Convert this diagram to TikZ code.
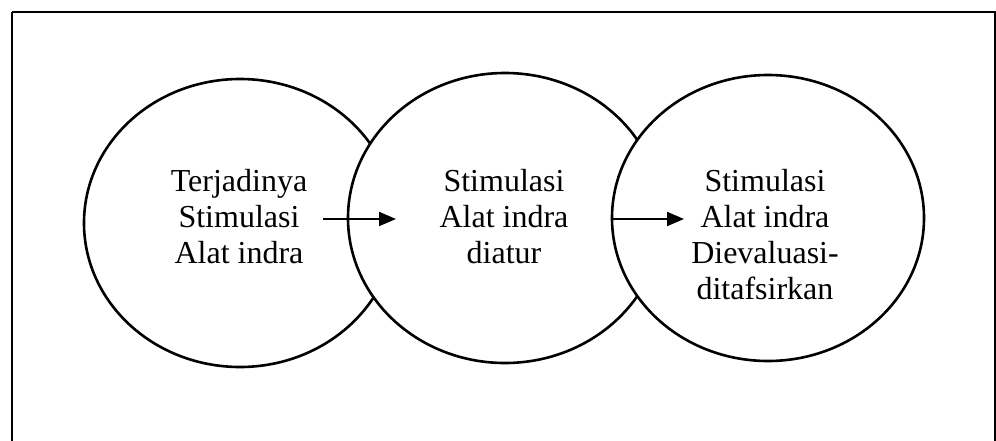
\documentclass[tikz,border=0pt]{standalone}
\usepackage{fontspec}
\setmainfont{Liberation Serif}
\usetikzlibrary{shapes.geometric,arrows.meta}
\tikzset{
  bubble/.style={draw, fill=white, ellipse, line width=2.6pt, inner sep=0pt},
  lbl/.style={anchor=base, inner sep=0pt, font=\fontsize{32}{36}\selectfont},
  conn/.style={line width=2pt, -{Triangle[length=17pt,width=14pt]}}
}
\begin{document}
\begin{tikzpicture}[x=1pt,y=-1pt]
\useasboundingbox (0,0) rectangle (996,440);
\clip (0,0) rectangle (996,440);
\draw[line width=2.6pt] (12,12) -- (12,470) (12,12) -- (995,12) -- (995,470);
\node[bubble, minimum width=312pt, minimum height=288pt] (e1) at (240,223) {};
\node[bubble, minimum width=314pt, minimum height=290pt] (e2) at (505,218) {};
\node[bubble, minimum width=312pt, minimum height=286pt] (e3) at (768,218) {};
\node[lbl] (t1a) at (239,191) {Terjadinya};
\node[lbl] (t1b) at (239,227) {Stimulasi};
\node[lbl] (t1c) at (239,263) {Alat indra};
\node[lbl] (t2a) at (504,191) {Stimulasi};
\node[lbl] (t2b) at (504,227) {Alat indra};
\node[lbl] (t2c) at (504,263) {diatur};
\node[lbl] (t3a) at (765,191) {Stimulasi};
\node[lbl] (t3b) at (765,227) {Alat indra};
\node[lbl] (t3c) at (765,263) {Dievaluasi-};
\node[lbl] (t3d) at (765,299) {ditafsirkan};
\coordinate (a1s) at (323,219);
\coordinate (a1e) at (396,219);
\coordinate (a2s) at (611,219);
\coordinate (a2e) at (684,219);
\draw[conn] (a1s) -- (a1e);
\draw[conn] (a2s) -- (a2e);
\end{tikzpicture}
\end{document}
